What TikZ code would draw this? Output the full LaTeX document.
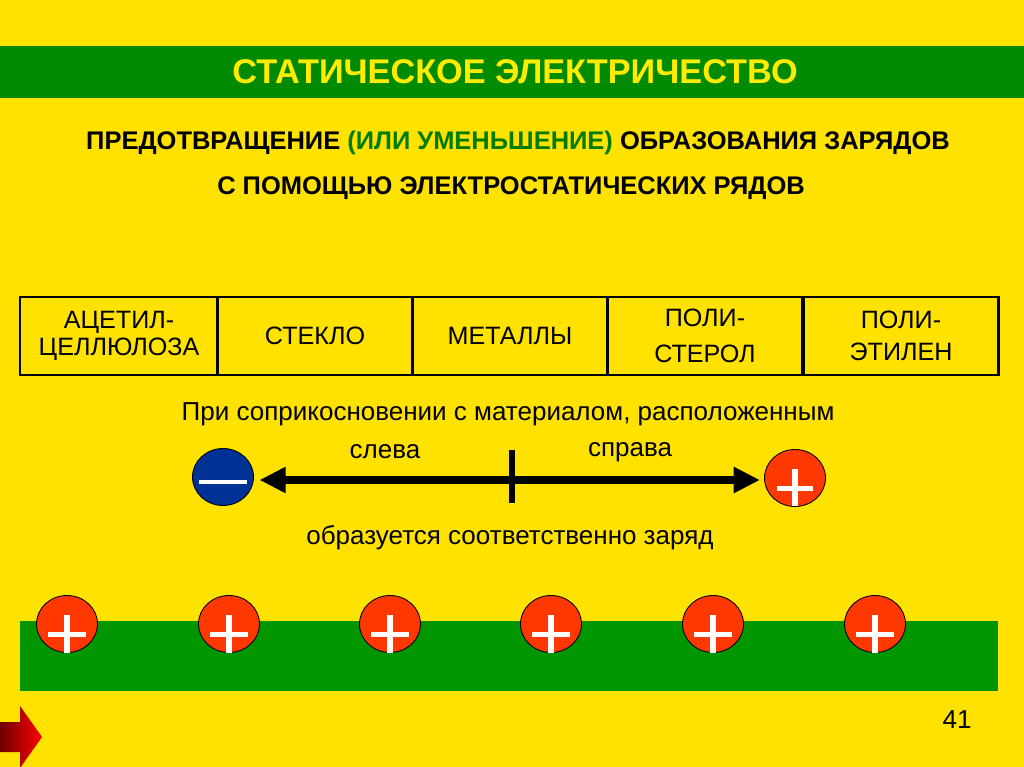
\documentclass[tikz,border=0pt]{standalone}
\usepackage{fontspec}
\setmainfont{Liberation Sans}
\usetikzlibrary{arrows.meta,positioning,calc,shapes.geometric}
\definecolor{slideYellow}{RGB}{255,226,0}
\definecolor{titleYellow}{RGB}{255,236,0}
\definecolor{bandGreen}{RGB}{0,138,0}
\definecolor{baseGreen}{RGB}{0,150,0}
\definecolor{textGreen}{RGB}{0,125,0}
\definecolor{chargeRed}{RGB}{255,55,0}
\definecolor{chargeBlue}{RGB}{0,50,150}
\definecolor{navDark}{RGB}{110,0,0}
\definecolor{navRed}{RGB}{255,0,0}

\begin{document}
\begin{tikzpicture}[
    x=0.02cm, y=-0.02cm,
    every node/.style={font=\fontsize{14.8}{17}\selectfont, inner sep=0pt},
    title/.style={font=\fontsize{19.5}{22}\selectfont\bfseries, text=titleYellow},
    headline/.style={font=\fontsize{14.5}{17}\selectfont\bfseries},
    cell/.style={draw=black, line width=1.2pt, rectangle,
                minimum width=195*0.02cm, minimum height=78*0.02cm,
                align=center, font=\fontsize{14.3}{15.3}\selectfont},
    charge/.style={ellipse, draw=black, line width=0.5pt,
                minimum width=61*0.02cm, minimum height=57*0.02cm},
    poscharge/.style={charge, fill=chargeRed},
    negcharge/.style={charge, fill=chargeBlue},
    signbar/.style={white, line width=3.1pt},
    series/.style={line width=4pt, {Triangle[length=15pt,width=14pt]}-{Triangle[length=15pt,width=14pt]}}
  ]
    % Background
    \useasboundingbox (0,0) rectangle (1024,767);
    \fill[slideYellow] (0,0) rectangle (1024,767);

    % Title band
    \fill[bandGreen] (0,46) rectangle (1024,98);
    \node[title] (title) at (515,72) {СТАТИЧЕСКОЕ ЭЛЕКТРИЧЕСТВО};

    \node[headline] (head1) at (518,143)
      {ПРЕДОТВРАЩЕНИЕ \textcolor{textGreen}{(ИЛИ УМЕНЬШЕНИЕ)} ОБРАЗОВАНИЯ ЗАРЯДОВ};
    \node[headline] (head2) at (511,188) {С ПОМОЩЬЮ ЭЛЕКТРОСТАТИЧЕСКИХ РЯДОВ};

    % Series table
    \node[cell, minimum width=198*0.02cm] (acet) at (119,336) {АЦЕТИЛ-\\ЦЕЛЛЮЛОЗА};
    \node[cell] (glass) at (315,336) {СТЕКЛО};
    \node[cell] (metal) at (510,336) {МЕТАЛЛЫ};
    \node[cell] (pstyr) at (705,336) {ПОЛИ-\\[5pt]СТЕРОЛ};
    \node[cell] (pethy) at (901,336) {ПОЛИ-\\[2.7pt]ЭТИЛЕН};

    % Contact rule
    \node (contact) at (508,414) {При соприкосновении с материалом, расположенным};
    \node (left)  at (385,452) {слева};
    \node (right) at (630,452) {справа};
    \node (result) at (510,538) {образуется соответственно заряд};

    \node[negcharge] (minus) at (223,477) {};
    \node[poscharge] (plus)  at (795,478) {};
    \draw[signbar, line width=2.6pt] ($(minus.center)+(-24,5)$) -- ++(48,0);
    \draw[signbar] ($(plus.center)+(0,-9)$) -- ++(0,37);
    \draw[signbar] ($(plus.center)+(-18,10.5)$) -- ++(36,0);

    \coordinate (mid) at (512,480);
    \draw[series, shorten <=3.1pt, shorten >=2.3pt] (minus.east |- mid) -- (plus.west |- mid);
    \draw[line width=3.4pt] ($(mid)+(0,-30)$) -- ($(mid)+(0,23)$);

    % Charged surface
    \fill[baseGreen] (20,621) rectangle (998,691);
    \foreach \i/\x in {1/67,2/229,3/390,4/551,5/713,6/875} {
      \node[poscharge] (c\i) at (\x,624) {};
      \draw[signbar] ($(c\i.center)+(0,-9)$) -- ++(0,38);
      \draw[signbar] ($(c\i.center)+(-19,10.5)$) -- ++(38,0);
    }

    % Page number and nav arrow
    \node (page) at (957,720) {41};
    \shade[left color=navDark, right color=navRed]
      (0,722) -- (20,722) -- (20,706) -- (42,737) -- (20,768) -- (20,752) -- (0,752) -- cycle;
  \end{tikzpicture}
\end{document}
